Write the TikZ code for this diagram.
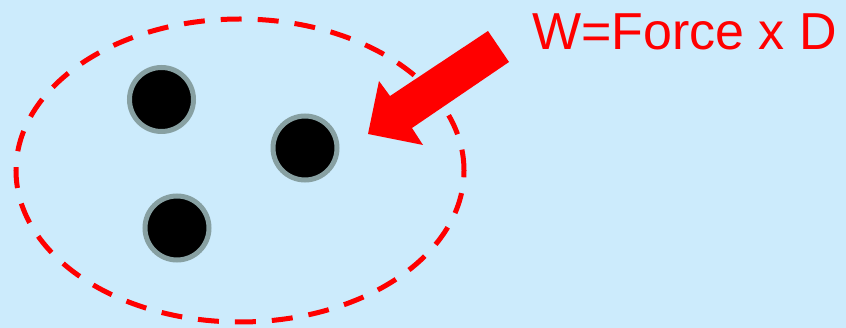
\documentclass[tikz,border=0pt]{standalone}
\usepackage{fontspec}
\setmainfont{Liberation Sans}
\usetikzlibrary{shapes.geometric}
\definecolor{bgblue}{RGB}{204,235,252}
\definecolor{ringgray}{RGB}{135,160,162}
\definecolor{pred}{RGB}{255,0,0}
\begin{document}
\begin{tikzpicture}[x=1pt,y=-1pt,
  particle/.style={circle,fill=black,draw=ringgray,line width=5pt,minimum size=64pt,inner sep=0pt},
  boundary/.style={draw=pred,line width=5pt,dash pattern=on 21pt off 16pt},
  forcearrow/.style={fill=pred,draw=none},
  label/.style={text=pred,font=\fontsize{52}{60}\selectfont,anchor=base west,inner sep=0pt}]
\fill[bgblue] (0,0) rectangle (846,328);
\useasboundingbox (0,0) rectangle (846,328);
\node[boundary,ellipse,minimum width=448pt,minimum height=303pt,inner sep=0pt] (sys) at (240,170.5) {};
\node[particle] (p1) at (161.5,99.5) {};
\node[particle] (p2) at (305,148) {};
\node[particle] (p3) at (177,228) {};
\fill[forcearrow] (488,31) -- (509,62) -- (412,128) -- (423,145) -- (368,134) -- (379,81) -- (390,96) -- cycle;
\node[label] (w) at (532,50) {W=Force x D};
\end{tikzpicture}
\end{document}
